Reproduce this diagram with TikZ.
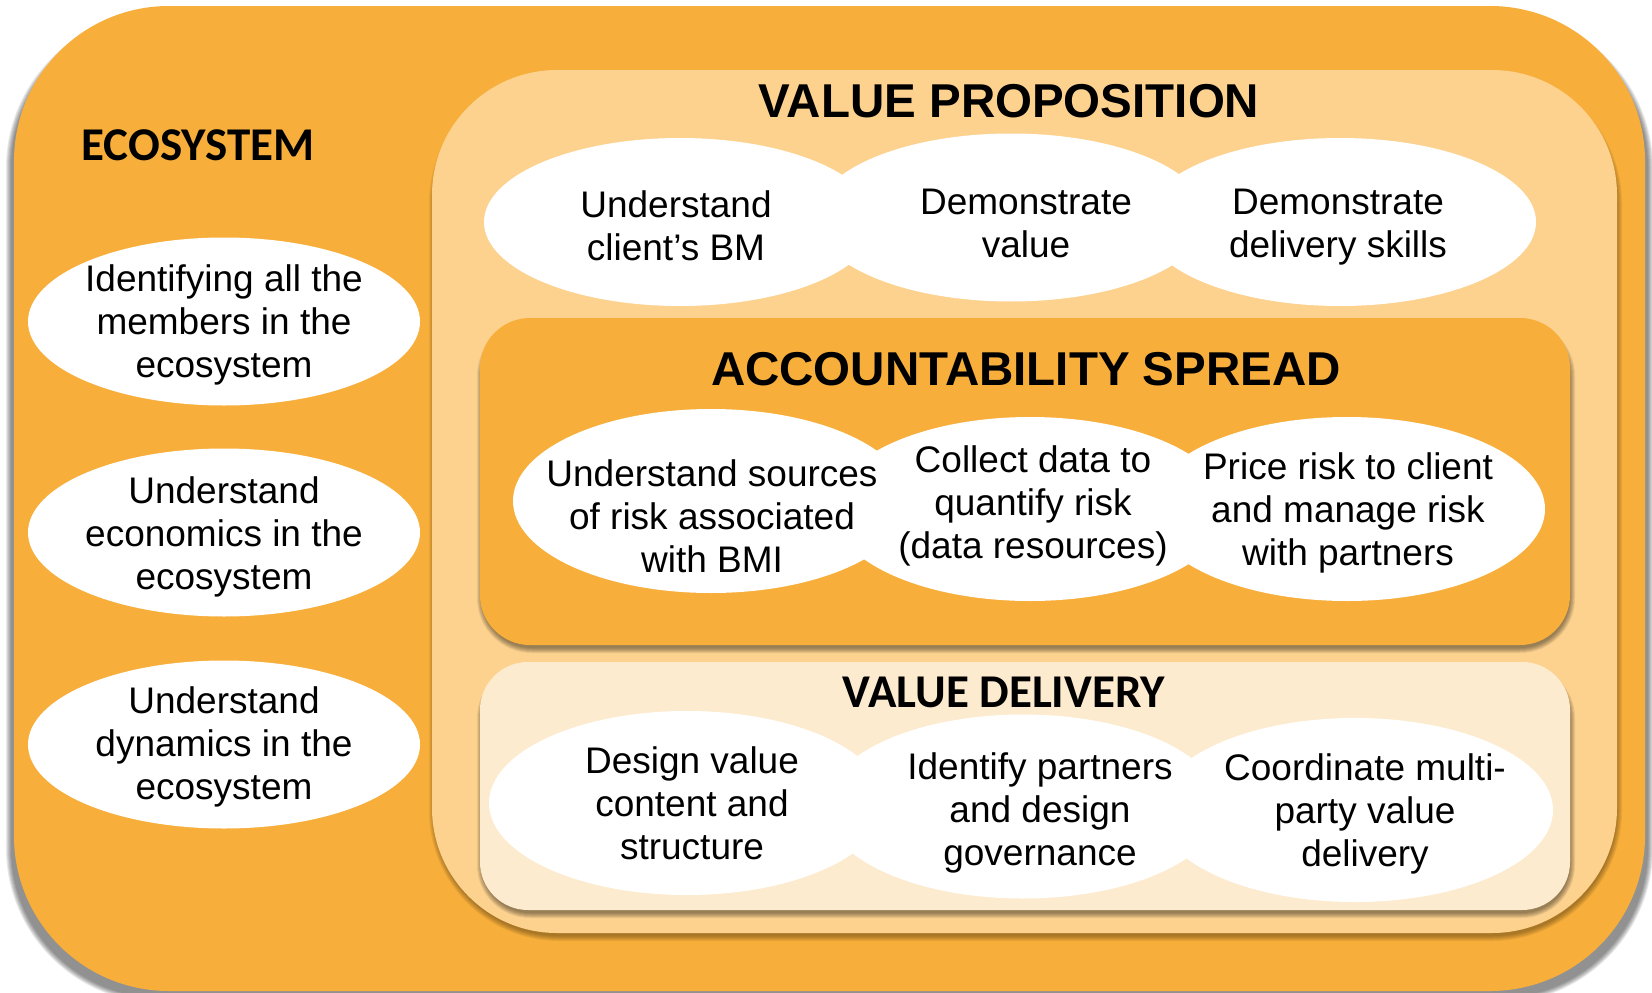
\documentclass[tikz,border=0pt]{standalone}
\usepackage{fontspec}
\setmainfont{Liberation Sans}
\newfontfamily\calib{Carlito}
\usetikzlibrary{shapes.geometric}
\definecolor{orangeA}{RGB}{247,174,58}
\definecolor{peachB}{RGB}{253,210,143}
\definecolor{creamC}{RGB}{253,235,207}
\newcommand\mysoftshadow[6]{%
  \foreach \e in {0,1,2,3,4,5}{%
    \pgfmathsetmacro\rr{#5+\e}%
    \fill[black, opacity=#6, rounded corners=\rr pt]
      ({#1-\e},{#2-\e}) rectangle ({#3+\e},{#4+\e});
  }%
}
\tikzset{
  ell/.style={ellipse, fill=white, draw=none, inner sep=0pt, outer sep=0pt},
  txt/.style={align=center, anchor=base, inner sep=0pt, font=\fontsize{37}{43}\selectfont},
  ttl/.style={anchor=base, inner sep=0pt, font=\fontsize{47.5}{50}\selectfont\bfseries},
  cttl/.style={anchor=base, inner sep=0pt, font=\calib\fontsize{47}{50}\selectfont\bfseries},
  ellvp/.style={ell, minimum width=392pt, minimum height=168pt},
  ellas/.style={ell, minimum width=396pt, minimum height=184pt},
}
\begin{document}
\begin{tikzpicture}[x=1pt, y=-1pt]
\useasboundingbox (0,0) rectangle (1652,993);
% outer box
\mysoftshadow{11}{18}{1648}{998}{150}{0.09}
\fill[orangeA, rounded corners=155pt] (14,6) rectangle (1645,991);
% value proposition box
\mysoftshadow{434}{78}{1617}{936}{125}{0.06}
\fill[peachB, rounded corners=125pt] (432,70) rectangle (1617,933);
% accountability box
\mysoftshadow{482}{326}{1570}{648}{50}{0.08}
\fill[orangeA, rounded corners=50pt] (480,318) rectangle (1570,645);
% value delivery box
\mysoftshadow{482}{670}{1570}{913}{48}{0.08}
\fill[creamC, rounded corners=48pt] (480,662) rectangle (1570,910);

% titles
\node[cttl] (teco) at (198,160) {ECOSYSTEM};
\node[ttl] (tvp) at (1009,117) {VALUE PROPOSITION};
\node[ttl] (tas) at (1026,385) {ACCOUNTABILITY SPREAD};
\node[cttl] (tvd) at (1004,707) {VALUE DELIVERY};

% ecosystem ellipses (text anchored at the baseline of its last line)
\node[ellvp] (l1) at (224,321.5) {};
\node[ellvp] (l2) at (224,532.5) {};
\node[ellvp] (l3) at (224,744.5) {};
\node[txt] (l1t) at (224,377) {Identifying all the\\members in the\\ecosystem};
\node[txt] (l2t) at (224,589) {Understand\\economics in the\\ecosystem};
\node[txt] (l3t) at (224,799) {Understand\\dynamics in the\\ecosystem};

% value proposition ellipses
\node[ellvp] (e1) at (680,222) {};
\node[ellvp] (e2) at (1011,217.5) {};
\node[ellvp] (e3) at (1340,222) {};
\node[txt] (e1t) at (676,260) {Understand\\client’s BM};
\node[txt] (e2t) at (1026,257) {Demonstrate\\value};
\node[txt] (e3t) at (1338,257) {Demonstrate\\delivery skills};

% accountability ellipses
\node[ellas] (a1) at (711,501) {};
\node[ellas] (a2) at (1030,509) {};
\node[ellas] (a3) at (1347,509) {};
\node[txt] (a1t) at (712,572) {Understand sources\\of risk associated\\with BMI};
\node[txt] (a2t) at (1033,558) {Collect data to\\quantify risk\\(data resources)};
\node[txt] (a3t) at (1348,565) {Price risk to client\\and manage risk\\with partners};

% value delivery ellipses
\node[ellas] (d1) at (687,803) {};
\node[ellas] (d2) at (1023,806.5) {};
\node[ellas] (d3) at (1355,810) {};
\node[txt] (d1t) at (692,859) {Design value\\content and\\structure};
\node[txt] (d2t) at (1040,865) {Identify partners\\and design\\governance};
\node[txt] (d3t) at (1365,866) {Coordinate multi-\\party value\\delivery};
\end{tikzpicture}
\end{document}
